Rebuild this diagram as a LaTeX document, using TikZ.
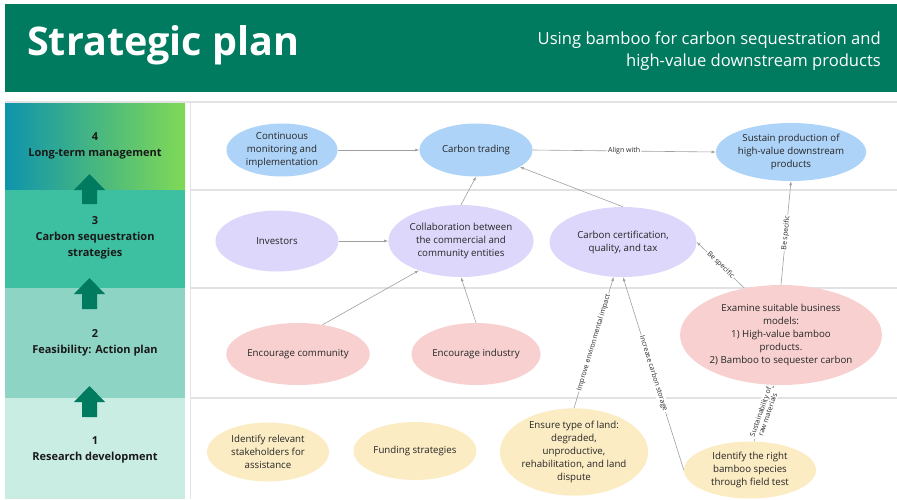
\documentclass[tikz,border=0pt]{standalone}
\usepackage{fontspec}
\setmainfont{Open Sans}
\usetikzlibrary{shapes.geometric,arrows.meta}

\definecolor{banner}{RGB}{0,123,95}
\definecolor{gradL}{RGB}{14,148,172}
\definecolor{gradR}{RGB}{128,217,86}
\definecolor{rowC}{RGB}{61,191,162}
\definecolor{rowB}{RGB}{141,212,196}
\definecolor{rowA}{RGB}{201,236,227}
\definecolor{skyfill}{RGB}{174,211,248}
\definecolor{lilacfill}{RGB}{220,215,251}
\definecolor{rosefill}{RGB}{248,208,208}
\definecolor{sandfill}{RGB}{251,236,195}
\definecolor{rule}{RGB}{226,226,226}

\tikzset{
	stage/.style={font=\bfseries\fontsize{11}{16}\selectfont, align=center, text=black!90},
	bubble/.style={ellipse, inner sep=0pt, align=center, text=black!85,
		font=\fontsize{9.7}{13}\selectfont},
	link/.style={draw=gray!75, line width=0.6pt, arrows={-{Latex[length=4pt,width=3pt]}}},
	tag/.style={sloped, fill=white, inner sep=1pt, align=center, text=black!85,
		font=\fontsize{7}{7.5}\selectfont}
}

\begin{document}
\begin{tikzpicture}[x=1pt,y=-1pt]

	\useasboundingbox (0,0) rectangle (897,499);

	%---------------------
	% header
	%---------------------
	\fill[banner] (5,4) rectangle (897,92);
	\node[anchor=base west, text=white, inner sep=0pt,
		font=\bfseries\fontsize{39.5}{39.5}\selectfont] (title) at (27,55) {Strategic plan};
	\node[anchor=east, align=right, text=white, inner sep=0pt,
		font=\fontsize{16.6}{22.5}\selectfont] (subtitle) at (881,51)
		{Using bamboo for carbon sequestration and\\high-value downstream products};
	\draw[rule, line width=1.5pt] (5,102) -- (897,102);

	%---------------------
	% stages (left column)
	%---------------------
	% S4
	\shade[left color=gradL, right color=gradR] (5,103) rectangle (185,190);
	% S3
	\fill[rowC] (5,190) rectangle (185,288);
	% S2
	\fill[rowB] (5,288) rectangle (185,398);
	% S1
	\fill[rowA] (5,398) rectangle (185,499);

	\node[stage] (s4) at (95,146) {4\\Long-term management};
	\node[stage] (s3) at (95,238) {3\\Carbon sequestration\\strategies};
	\node[stage] (s2) at (95,342.5) {2\\Feasibility: Action plan};
	\node[stage] (s1) at (95,450) {1\\Research development};

	% up arrows
	\fill[banner] (89.5,174) -- (105,190) -- (97,190) -- (97,204) -- (82,204) -- (82,190) -- (74,190) -- cycle;
	\fill[banner] (89.5,278) -- (105,294) -- (97,294) -- (97,309) -- (82,309) -- (82,294) -- (74,294) -- cycle;
	\fill[banner] (89.5,386) -- (105,402) -- (97,402) -- (97,417) -- (82,417) -- (82,402) -- (74,402) -- cycle;

	% grid of the right area
	\draw[rule, line width=1pt] (190,103) -- (190,499);
	\draw[rule, line width=1.5pt] (190,190) -- (897,190);
	\draw[rule, line width=1.5pt] (190,288) -- (897,288);
	\draw[rule, line width=1.5pt] (190,398) -- (897,398);

	%---------------------
	% long-term management
	%---------------------
	\node[bubble, fill=skyfill, minimum width=111pt, minimum height=53pt] (monitor) at (282,150)
		{Continuous\\monitoring and\\implementation};
	\node[bubble, fill=skyfill, minimum width=113pt, minimum height=53pt] (trading) at (476,150)
		{Carbon trading};
	\node[bubble, fill=skyfill, minimum width=143pt, minimum height=58pt] (sustain) at (791,152)
		{Sustain production of\\high-value downstream\\products};

	%---------------------
	% carbon sequestration strategies
	%---------------------
	\node[bubble, fill=lilacfill, minimum width=123pt, minimum height=61pt] (investors) at (277,241)
		{Investors};
	\node[bubble, fill=lilacfill, minimum width=143pt, minimum height=72pt] (collab) at (461,241)
		{Collaboration between\\the commercial and\\community entities};
	\node[bubble, fill=lilacfill, minimum width=147pt, minimum height=70pt] (certif) at (623,242)
		{Carbon certification,\\quality, and tax};

	%---------------------
	% feasibility
	%---------------------
	\node[bubble, fill=rosefill, minimum width=129pt, minimum height=62pt] (community) at (298,354)
		{Encourage community};
	\node[bubble, fill=rosefill, minimum width=129pt, minimum height=62pt] (industry) at (476,354)
		{Encourage industry};
	\node[bubble, fill=rosefill, minimum width=193pt, minimum height=100pt] (models) at (781,335)
		{Examine suitable business\\models:\\1) High-value bamboo\\products.\\2) Bamboo to sequester carbon};

	%---------------------
	% research development
	%---------------------
	\node[bubble, fill=sandfill, minimum width=122pt, minimum height=59pt] (stakeholders) at (268,452)
		{Identify relevant\\stakeholders for\\assistance};
	\node[bubble, fill=sandfill, minimum width=123pt, minimum height=58pt] (funding) at (415,451)
		{Funding strategies};
	\node[bubble, fill=sandfill, minimum width=128pt, minimum height=81pt] (land) at (574,452)
		{Ensure type of land:\\degraded,\\unproductive,\\rehabilitation, and land\\dispute};
	\node[bubble, fill=sandfill, minimum width=132pt, minimum height=57pt] (species) at (750,470)
		{Identify the right\\bamboo species\\through field test};

	%---------------------
	% connectors
	%---------------------
	\draw[link] (monitor) -- (trading);
	\draw[link] (trading.east) -- node[tag] {Align with} (sustain.west);
	\draw[link] (collab.north) -- (trading.south);
	\draw[link] (certif.north) -- (trading);
	\draw[link] (investors) -- (collab);
	\draw[link] (community.50) -- (collab.215);
	\draw[link] (industry.north) -- (collab.south);
	\draw[link] (models.128) -- node[tag] {Be specific} (certif.east);
	\draw[link] (models.north) -- node[tag] {Be specific} (sustain.south);
	\draw[link] (land.north) -- node[tag] {Improve environmental impact} (certif.255);
	\draw[link] (species.west) -- node[tag] {Increase carbon storage} (certif.south);
	\draw[link] (species.82) -- node[tag] {Sustainability of\\raw materials} (models.262);

\end{tikzpicture}
\end{document}
